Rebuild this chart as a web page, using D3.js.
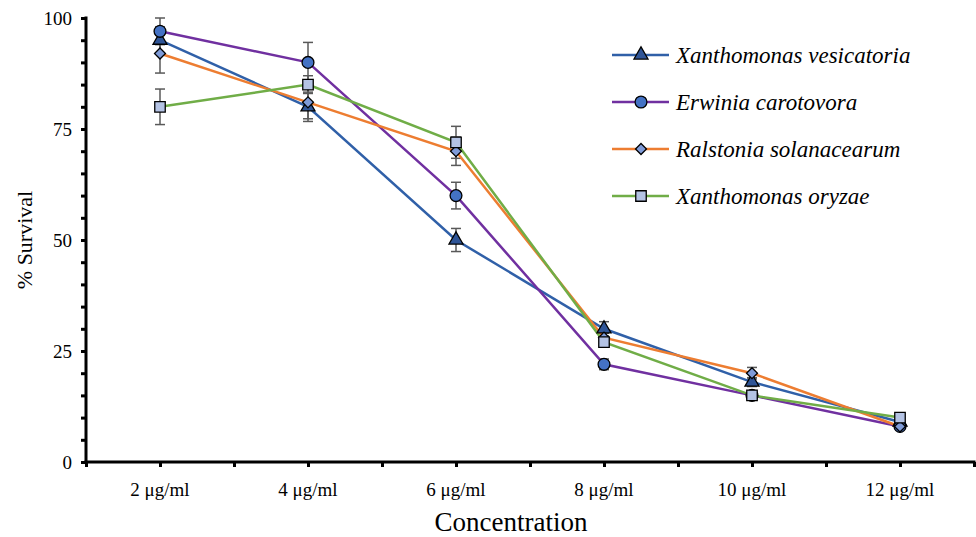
<!DOCTYPE html>
<html>
<head>
<meta charset="utf-8">
<script src="https://cdn.jsdelivr.net/npm/d3@7"></script>
<style>
  body { margin: 0; background: #fff; }
  svg text { font-family: "Liberation Serif", "Times New Roman", serif; fill: #000; }
</style>
</head>
<body>
<script>
// Data
const categories = ["2 μg/ml", "4 μg/ml", "6 μg/ml", "8 μg/ml", "10 μg/ml", "12 μg/ml"];
const seriesNames = ["Xanthomonas vesicatoria", "Erwinia carotovora", "Ralstonia solanacearum", "Xanthomonas oryzae"];
const vesicatoria = [95, 80, 50, 30, 18, 9];
const carotovora = [97, 90, 60, 22, 15, 8];
const solanacearum = [92, 81, 70, 28, 20, 8];
const oryzae = [80, 85, 72, 27, 15, 10];
const vesicatoriaErr = [3, 3.3, 2.6, 1.6, 1, 0.5];
const carotovoraErr = [3, 4.5, 3, 1.2, 0.8, 0.5];
const solanacearumErr = [4.4, 3.7, 3.2, 1, 1.3, 0.5];
const oryzaeErr = [4, 2, 3.6, 1, 0.8, 0.5];
const yTicks = [0, 25, 50, 75, 100];

const series = [
  { name: seriesNames[0], values: vesicatoria, err: vesicatoriaErr, line: "#3060A8", fill: "#2F5597", shape: "triangle" },
  { name: seriesNames[1], values: carotovora, err: carotovoraErr, line: "#7030A0", fill: "#4472C4", shape: "circle" },
  { name: seriesNames[2], values: solanacearum, err: solanacearumErr, line: "#ED7D31", fill: "#7F9BD8", shape: "diamond" },
  { name: seriesNames[3], values: oryzae, err: oryzaeErr, line: "#70AD47", fill: "#B4C3E4", shape: "square" }
];

const W = 976, H = 537;
const plotLeft = 86, plotRight = 974, plotTop = 18, plotBottom = 462;

const svg = d3.select("body").append("svg")
  .attr("width", W)
  .attr("height", H);

// x: index scale so that ticks fall both on categories and between them
const x = d3.scaleLinear().domain([-0.5, categories.length - 0.5]).range([plotLeft, plotRight]);
const y = d3.scaleLinear().domain([0, 100]).range([plotBottom, plotTop]);

// Y axis with minor ticks every 5
const yAxis = svg.append("g")
  .attr("transform", `translate(${plotLeft},0)`)
  .call(d3.axisLeft(y).tickValues(d3.range(0, 101, 5)).tickSize(5).tickFormat(""));
yAxis.select(".domain").attr("stroke", "#000").attr("stroke-width", 3).attr("d", `M0,${plotTop - 1.5}V${plotBottom + 1.5}`);
yAxis.selectAll(".tick line").attr("stroke", "#000").attr("stroke-width", 3);

svg.append("g").selectAll("text")
  .data(yTicks)
  .join("text")
  .attr("x", plotLeft - 14)
  .attr("y", d => y(d))
  .attr("dy", "0.35em")
  .attr("text-anchor", "end")
  .style("font-size", "19px")
  .text(d => d);

// X axis with ticks at categories and boundaries
const xAxis = svg.append("g")
  .attr("transform", `translate(0,${plotBottom})`)
  .call(d3.axisBottom(x).tickValues(d3.range(-0.5, categories.length, 0.5)).tickSize(5).tickFormat(""));
xAxis.select(".domain").attr("stroke", "#000").attr("stroke-width", 3).attr("d", `M${plotLeft - 1.5},0H${plotRight + 1.5}`);
xAxis.selectAll(".tick line").attr("stroke", "#000").attr("stroke-width", 3);

svg.append("g").selectAll("text")
  .data(categories)
  .join("text")
  .attr("x", (d, i) => x(i))
  .attr("y", 496)
  .attr("text-anchor", "middle")
  .style("font-size", "19px")
  .text(d => d);

// Axis titles
svg.append("text")
  .attr("x", 511)
  .attr("y", 531)
  .attr("text-anchor", "middle")
  .style("font-size", "27px")
  .text("Concentration");

svg.append("text")
  .attr("transform", `translate(32,${(plotTop + plotBottom) / 2}) rotate(-90)`)
  .attr("text-anchor", "middle")
  .style("font-size", "22px")
  .text("% Survival");

// Error bars
const errG = svg.append("g");
series.forEach(s => {
  s.values.forEach((v, i) => {
    const cx = x(i), y1 = y(v + s.err[i]), y2 = y(v - s.err[i]);
    errG.append("line").attr("x1", cx).attr("x2", cx).attr("y1", y1).attr("y2", y2)
      .attr("stroke", "#595959").attr("stroke-width", 1.5);
    [y1, y2].forEach(yy => errG.append("line")
      .attr("x1", cx - 5).attr("x2", cx + 5).attr("y1", yy).attr("y2", yy)
      .attr("stroke", "#595959").attr("stroke-width", 1.5));
  });
});

// Lines
const line = d3.line().x((d, i) => x(i)).y(d => y(d));
svg.append("g").selectAll("path")
  .data(series)
  .join("path")
  .attr("d", s => line(s.values))
  .attr("fill", "none")
  .attr("stroke", s => s.line)
  .attr("stroke-width", 2.5);

// Marker shapes (diamond is a square turned 45 degrees)
const symbols = {
  triangle: { path: d3.symbol().type(d3.symbolTriangle).size(85)(), rot: 0 },
  circle: { path: d3.symbol().type(d3.symbolCircle).size(110)(), rot: 0 },
  diamond: { path: d3.symbol().type(d3.symbolSquare).size(60)(), rot: 45 },
  square: { path: d3.symbol().type(d3.symbolSquare).size(110)(), rot: 0 }
};

series.forEach(s => {
  svg.append("g").selectAll("path")
    .data(s.values)
    .join("path")
    .attr("transform", (d, i) => `translate(${x(i)},${y(d)}) rotate(${symbols[s.shape].rot})`)
    .attr("d", symbols[s.shape].path)
    .attr("fill", s.fill)
    .attr("stroke", "#000")
    .attr("stroke-width", 1.3);
});

// Legend
const legend = svg.append("g");
const legendY = [55, 102, 149, 196];
series.forEach((s, i) => {
  const g = legend.append("g").attr("transform", `translate(0,${legendY[i]})`);
  g.append("line").attr("x1", 612).attr("x2", 669).attr("y1", 0).attr("y2", 0)
    .attr("stroke", s.line).attr("stroke-width", 2.5);
  g.append("path").attr("transform", `translate(641,0) rotate(${symbols[s.shape].rot})`)
    .attr("d", symbols[s.shape].path)
    .attr("fill", s.fill).attr("stroke", "#000").attr("stroke-width", 1.3);
  g.append("text").attr("x", 676).attr("y", 0).attr("dy", "0.33em")
    .style("font-size", "23px").style("font-style", "italic")
    .text(s.name);
});
</script>
</body>
</html>
